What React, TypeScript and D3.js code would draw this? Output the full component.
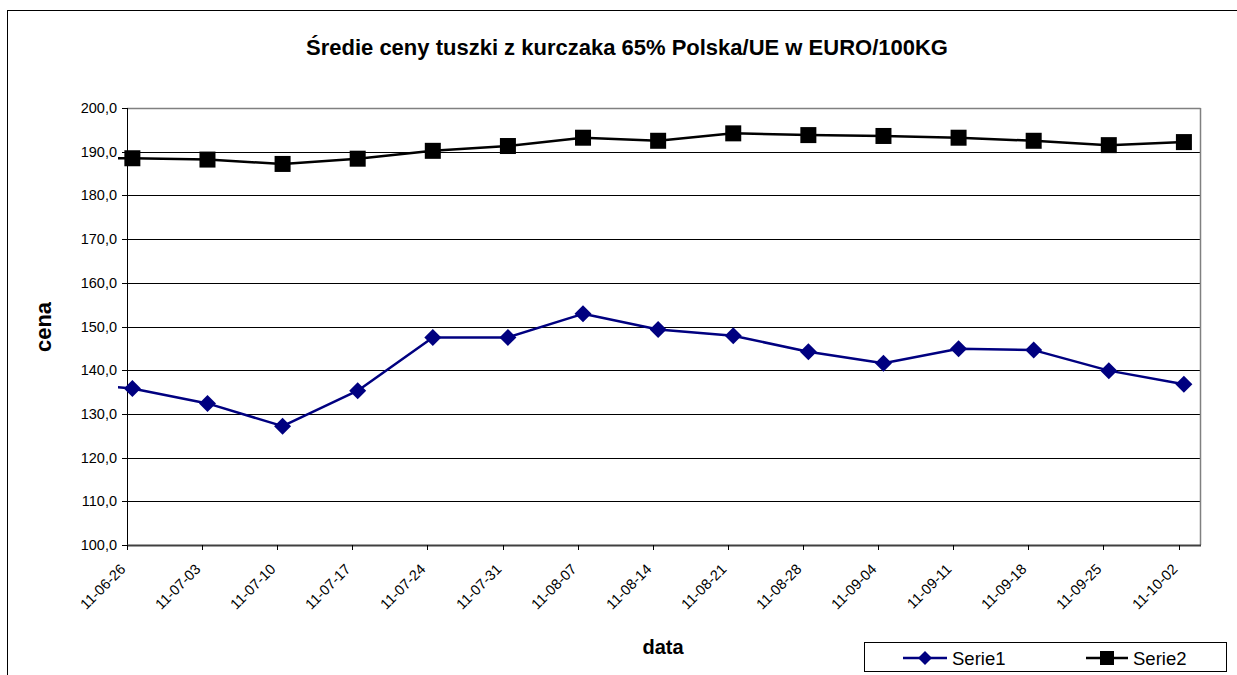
import React from "react";
import * as d3 from "d3";

const titleText = "Średie ceny tuszki z kurczaka 65% Polska/UE w EURO/100KG";
const xTitle = "data";
const yTitle = "cena";
const seriesNames = ["Serie1", "Serie2"];

// weekly dates (the first one lies before the axis start; only its line stub shows)
const dates = [
  "2011-06-19", "2011-06-26", "2011-07-03", "2011-07-10", "2011-07-17", "2011-07-24",
  "2011-07-31", "2011-08-07", "2011-08-14", "2011-08-21", "2011-08-28", "2011-09-04",
  "2011-09-11", "2011-09-18", "2011-09-25", "2011-10-02",
];
const serie1 = [137.3, 135.8, 132.4, 127.2, 135.3, 147.5, 147.5, 152.9, 149.3, 147.9, 144.2, 141.6, 144.9, 144.6, 139.9, 136.8];
const serie2 = [188.5, 188.5, 188.2, 187.2, 188.4, 190.2, 191.3, 193.2, 192.5, 194.2, 193.8, 193.6, 193.2, 192.5, 191.5, 192.2];

const axisStart = "2011-06-26";
const axisEnd = "2011-10-04";
const tickDates = [
  "2011-06-26", "2011-07-03", "2011-07-10", "2011-07-17", "2011-07-24", "2011-07-31",
  "2011-08-07", "2011-08-14", "2011-08-21", "2011-08-28", "2011-09-04", "2011-09-11",
  "2011-09-18", "2011-09-25", "2011-10-02",
];
const yTicks = [100, 110, 120, 130, 140, 150, 160, 170, 180, 190, 200];

const W = 1237;
const H = 675;
const FONT = "Arial, 'Liberation Sans', Helvetica, sans-serif";
const NAVY = "#000080";

export default function App() {
  const parse = d3.utcParse("%Y-%m-%d");
  const fmtX = d3.utcFormat("%y-%m-%d");
  const fmtY = (v: number) => d3.format(".1f")(v).replace(".", ",");

  const plot = { left: 127, right: 1200, top: 108, bottom: 545 };
  const x = d3.scaleUtc().domain([parse(axisStart)!, parse(axisEnd)!]).range([plot.left, plot.right]);
  const y = d3.scaleLinear().domain([100, 200]).range([plot.bottom, plot.top]);
  const halfDay = 12 * 3600 * 1000;
  const px = (d: string) => x(new Date(parse(d)!.getTime() + halfDay));

  const pts1 = dates.map((d, i) => [px(d), y(serie1[i])] as [number, number]);
  const pts2 = dates.map((d, i) => [px(d), y(serie2[i])] as [number, number]);
  const line = d3.line<[number, number]>().x((p) => p[0]).y((p) => p[1]);

  const diamond = (cx: number, cy: number, r: number) =>
    `M${cx},${cy - r}L${cx + r},${cy}L${cx},${cy + r}L${cx - r},${cy}Z`;
  const square = (cx: number, cy: number, s: number) => (
    <rect x={cx - s / 2} y={cy - s / 2} width={s} height={s} fill="#000" />
  );

  const legend = { x: 864.5, y: 642.5, w: 362, h: 29 };
  const ly = 658;

  return (
    <svg width={W} height={H} style={{ position: "absolute", left: 0, top: 0, background: "#fff" }} fontFamily={FONT}>
      <defs>
        <clipPath id="clipPlot">
          <rect x={plot.left - 9} y={plot.top - 12} width={plot.right - plot.left + 9} height={plot.bottom - plot.top + 12} />
        </clipPath>
      </defs>
      <rect x={0} y={0} width={W} height={H} fill="#fff" />
      {/* chart frame */}
      <rect x={7.5} y={10.5} width={W + 20} height={H + 20} fill="none" stroke="#000" strokeWidth={1} />

      {/* title */}
      <text x={627} y={55} textAnchor="middle" fontWeight="bold" fontSize={22}>{titleText}</text>

      {/* gridlines */}
      {yTicks.filter((t) => t > 100 && t < 200).map((t) => (
        <line key={t} x1={plot.left} x2={plot.right} y1={Math.round(y(t)) + 0.5} y2={Math.round(y(t)) + 0.5} stroke="#000" strokeWidth={1} />
      ))}
      {/* plot border top/right */}
      <line x1={plot.left} x2={plot.right + 0.5} y1={plot.top + 0.5} y2={plot.top + 0.5} stroke="#808080" strokeWidth={1.5} />
      <line x1={plot.right + 0.5} x2={plot.right + 0.5} y1={plot.top} y2={plot.bottom} stroke="#808080" strokeWidth={1.5} />

      {/* y axis */}
      <line x1={plot.left + 0.5} x2={plot.left + 0.5} y1={plot.top} y2={plot.bottom + 5} stroke="#000" strokeWidth={1} />
      {yTicks.map((t) => (
        <g key={t}>
          <line x1={plot.left - 5} x2={plot.left} y1={Math.round(y(t)) + 0.5} y2={Math.round(y(t)) + 0.5} stroke="#000" strokeWidth={1} />
          <text x={117} y={y(t) + 5} textAnchor="end" fontSize={14.5} fill="#000">{fmtY(t)}</text>
        </g>
      ))}

      {/* x axis */}
      <line x1={plot.left} x2={plot.right + 1} y1={plot.bottom + 0.5} y2={plot.bottom + 0.5} stroke="#404040" strokeWidth={2} />
      {tickDates.map((d) => {
        const tx = Math.round(x(parse(d)!)) + 0.5;
        return (
          <g key={d}>
            <line x1={tx} x2={tx} y1={plot.bottom} y2={plot.bottom + 5} stroke="#000" strokeWidth={1} />
            <text transform={`translate(${tx - 1},${plot.bottom + 25}) rotate(-45)`} textAnchor="end" fontSize={14.5} fill="#000">
              {fmtX(parse(d)!)}
            </text>
          </g>
        );
      })}

      {/* axis titles */}
      <text x={663} y={654} textAnchor="middle" fontWeight="bold" fontSize={20}>{xTitle}</text>
      <text transform={`translate(51,327) rotate(-90)`} textAnchor="middle" fontWeight="bold" fontSize={22}>{yTitle}</text>

      {/* series */}
      <g clipPath="url(#clipPlot)">
        <path d={line(pts2) ?? ""} fill="none" stroke="#000" strokeWidth={2.5} strokeLinejoin="round" />
        {pts2.map((p, i) => <g key={"s" + i}>{square(p[0], p[1], 16)}</g>)}
        <path d={line(pts1) ?? ""} fill="none" stroke={NAVY} strokeWidth={2.5} strokeLinejoin="round" />
        {pts1.map((p, i) => <path key={"d" + i} d={diamond(p[0], p[1], 8.5)} fill={NAVY} />)}
      </g>

      {/* legend */}
      <rect x={legend.x} y={legend.y} width={legend.w} height={legend.h} fill="#fff" stroke="#000" strokeWidth={1} />
      <line x1={903} x2={947} y1={ly} y2={ly} stroke={NAVY} strokeWidth={2.5} />
      <path d={diamond(925, ly, 7)} fill={NAVY} />
      <text x={952} y={665} fontSize={18.5} fill="#000">{seriesNames[0]}</text>
      <line x1={1086} x2={1128} y1={ly} y2={ly} stroke="#000" strokeWidth={2.5} />
      <rect x={1100} y={ly - 7} width={14} height={14} fill="#000" />
      <text x={1133} y={665} fontSize={18.5} fill="#000">{seriesNames[1]}</text>
    </svg>
  );
}
